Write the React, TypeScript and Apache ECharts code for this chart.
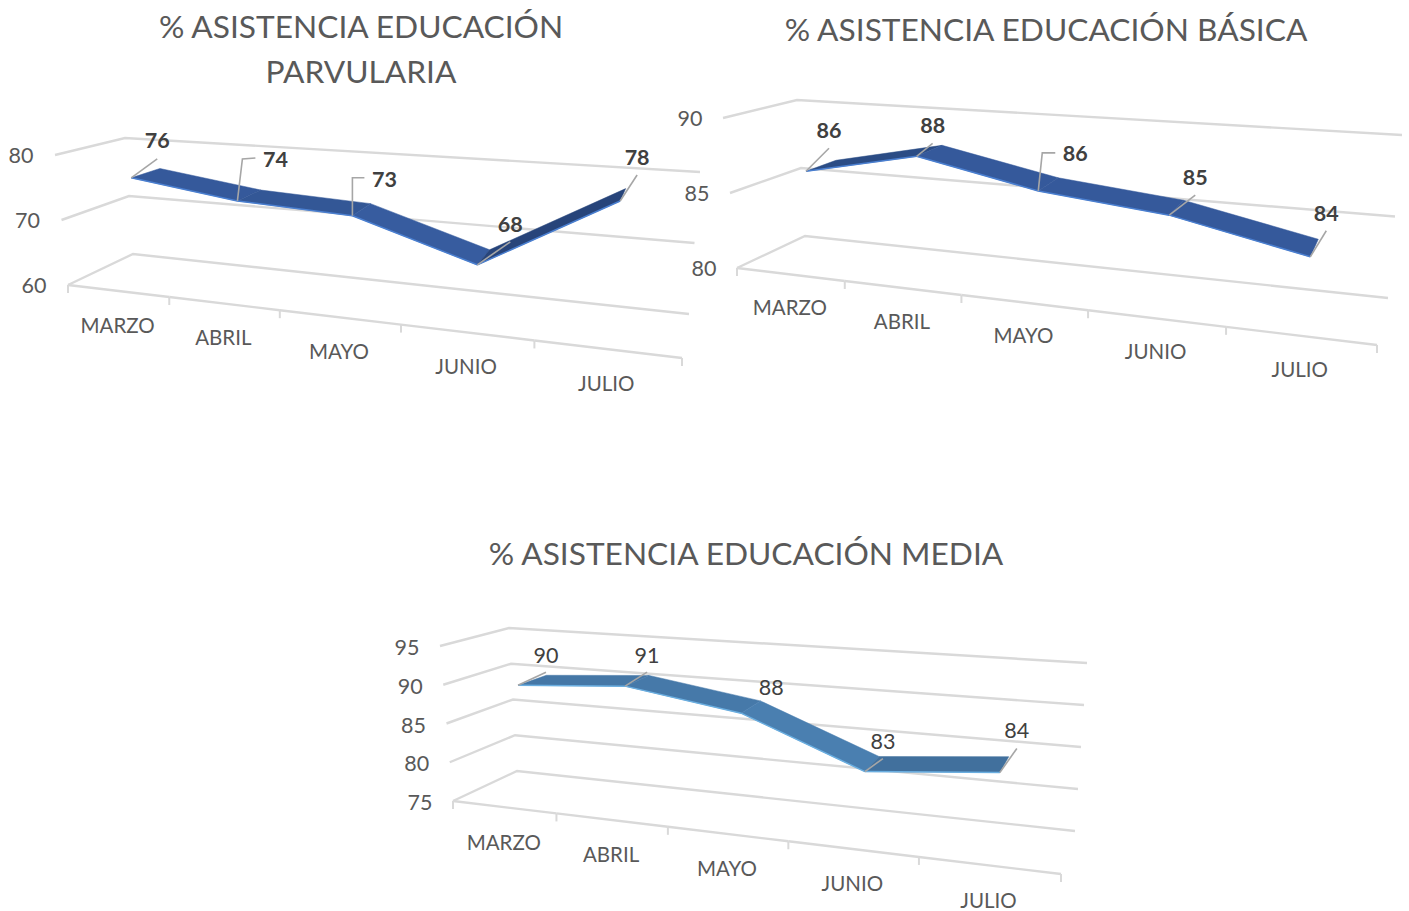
import React, { useEffect, useRef } from "react";
import * as echarts from "echarts";

const categories = ["MARZO", "ABRIL", "MAYO", "JUNIO", "JULIO"];

const parvulariaTitle = "% ASISTENCIA EDUCACIÓN\nPARVULARIA";
const parvulariaValues = [76, 73.7, 72.9, 67.5, 77.8];
const parvulariaTicks = [60, 70, 80];

const basicaTitle = "% ASISTENCIA EDUCACIÓN BÁSICA";
const basicaValues = [86.2, 87.8, 86.2, 85.4, 83.7];
const basicaTicks = [80, 85, 90];

const mediaTitle = "% ASISTENCIA EDUCACIÓN MEDIA";
const mediaValues = [89.5, 90.5, 88.3, 82.6, 84];
const mediaTicks = [75, 80, 85, 90, 95];

type P = [number, number];
type Box = { fbl: P; fbr: P; bbl: P; bbr: P; ftl: P; ftr: P; btl: P; btr: P };
type Note = { label: P; leader: P[] | null };

const FONT = "Lato, Carlito, sans-serif";
const GRID_COLOR = "#d9d9d9";
const TEXT_COLOR = "#595959";
const DEPTH_FRONT = 0.35;
const DEPTH_BACK = 0.8;

const charts: {
  title: string; titleX: number; titleY: number; warp: number;
  values: number[]; ticks: number[]; box: Box; grid: number[]; labelDy: number;
  segColors: string[]; edge: string; bold: boolean; tickDx: number; tickDy: number; notes: Note[];
}[] = [
  {
    title: parvulariaTitle, titleX: 356, titleY: -2, warp: -0.21, labelDy: 34,
    values: parvulariaValues, ticks: parvulariaTicks,
    box: { fbl: [68, 285], fbr: [682, 358], bbl: [133, 254], bbr: [689, 314], ftl: [55, 155], ftr: [696, 199], btl: [125, 138], btr: [700, 172] },
    grid: [60, 130, 620, 160],
    segColors: ["#35599b", "#335796", "#375c9f", "#27447a"], edge: "#4a7fd0", bold: true, tickDx: -34, tickDy: 0,
    notes: [
      { label: [26, -38], leader: [[26, -19]] },
      { label: [38, -42], leader: [[5, -42], [18, -43]] },
      { label: [32, -37], leader: [[0, -38], [12, -38]] },
      { label: [33, -41], leader: [[33, -23]] },
      { label: [17, -44], leader: [[17, -26]] },
    ],
  },
  {
    title: basicaTitle, titleX: 1041, titleY: 1, warp: -0.19, labelDy: 33,
    values: basicaValues, ticks: basicaTicks,
    box: { fbl: [737, 268], fbr: [1377, 345], bbl: [805, 236], bbr: [1388, 298], ftl: [723, 118], ftr: [1392, 165], btl: [797, 100], btr: [1402, 135] },
    grid: [730, 100, 650, 170],
    segColors: ["#2b4c85", "#35599b", "#35599b", "#35599b"], edge: "#4a7fd0", bold: true, tickDx: -33, tickDy: 0,
    notes: [
      { label: [23, -41], leader: [[23, -23]] },
      { label: [16, -31], leader: [[16, -13]] },
      { label: [37, -38], leader: [[4, -38], [17, -38]] },
      { label: [26, -38], leader: [[26, -20]] },
      { label: [16, -44], leader: [[16, -26]] },
    ],
  },
  {
    title: mediaTitle, titleX: 741, titleY: 525, warp: -0.18, labelDy: 34.5,
    values: mediaValues, ticks: mediaTicks,
    box: { fbl: [453, 801], fbr: [1061, 874], bbl: [517, 771], bbr: [1075, 831], ftl: [440, 646], ftr: [1074, 692], btl: [509, 628], btr: [1087, 663] },
    grid: [450, 640, 610, 160],
    segColors: ["#4577a6", "#4679a9", "#4a7fb0", "#41709d"], edge: "#6aaee0", bold: false, tickDx: -33, tickDy: 1,
    notes: [
      { label: [28, -30], leader: [[28, -13]] },
      { label: [22, -31], leader: [[22, -14]] },
      { label: [30, -26], leader: null },
      { label: [18, -31], leader: [[18, -13]] },
      { label: [17, -42], leader: [[17, -24]] },
    ],
  },
];

const mix = (a: P, b: P, t: number): P => [a[0] + (b[0] - a[0]) * t, a[1] + (b[1] - a[1]) * t];

// Excel's 3-D view: maps a position on the plain grid (u across, v up, d into the picture) onto the tilted box.
const project = (b: Box, warp: number, u: number, v: number, d: number): P => {
  const t = (u * (1 + warp)) / (1 + warp * u);
  const front = mix(mix(b.fbl, b.fbr, t), mix(b.ftl, b.ftr, t), v);
  const back = mix(mix(b.bbl, b.bbr, t), mix(b.btl, b.btr, t), v);
  return mix(front, back, d);
};

const text = (x: number, y: number, s: string, size: number, fill: string, weight = "normal") => ({
  type: "text", x, y, silent: true,
  style: { text: s, fill, font: `${weight} ${size}px ${FONT}`, align: "center", verticalAlign: "middle" },
});
const line = (points: P[], stroke: string, lineWidth: number) => ({
  type: "polyline", silent: true, shape: { points }, style: { stroke, lineWidth, fill: "none" },
});

const seriesFor = (c: (typeof charts)[number], index: number) => {
  const toUV = (params: any, p: number[]): P => {
    const g = params.coordSys;
    return [(p[0] - g.x) / g.width, 1 - (p[1] - g.y) / g.height];
  };
  const axes = { type: "custom", xAxisIndex: index, yAxisIndex: index, encode: { x: 0, y: 1 }, silent: true };
  const proj = (u: number, v: number, d: number) => project(c.box, c.warp, u, v, d);
  const point = (params: any, api: any, i: number, d: number): P => {
    const [u, v] = toUV(params, api.coord([i, c.values[i]]));
    return proj(u, v, d);
  };
  return [
    {
      ...axes, z: 1, data: c.ticks.map((t) => [0, t]),
      renderItem: (params: any, api: any) => {
        const value = api.value(1);
        const v = toUV(params, api.coord([0, value]))[1];
        const fl = proj(0, v, 0);
        const bl = proj(0, v, 1);
        const br = proj(1, v, 1);
        return {
          type: "group",
          children: [line([fl, bl, br], GRID_COLOR, 2.4), text(fl[0] + c.tickDx, fl[1] + c.tickDy, String(value), 21.5, TEXT_COLOR)],
        };
      },
    },
    {
      ...axes, z: 1, data: c.values.map((_, i) => [i, c.ticks[0]]),
      renderItem: (params: any, api: any) => {
        const i = api.value(0);
        const u = toUV(params, api.coord([i, c.ticks[0]]))[0];
        const half = api.size([1, 0])[0] / params.coordSys.width / 2;
        const a = proj(u - half, 0, 0);
        const b = proj(u + half, 0, 0);
        const m = proj(u, 0, 0);
        const children: any[] = [line([a, b], GRID_COLOR, 2.4), line([[a[0], a[1]], [a[0], a[1] + 8]], GRID_COLOR, 2), text(m[0], m[1] + c.labelDy, categories[i], 20.5, TEXT_COLOR)];
        if (i === categories.length - 1) children.push(line([[b[0], b[1]], [b[0], b[1] + 8]], GRID_COLOR, 2));
        return { type: "group", children };
      },
    },
    {
      ...axes, z: 3, data: c.values.map((v, i) => [i, v]),
      renderItem: (params: any, api: any) => {
        const i = params.dataIndex;
        if (i >= c.values.length - 1) return { type: "group", children: [] };
        const f0 = point(params, api, i, DEPTH_FRONT);
        const b0 = point(params, api, i, DEPTH_BACK);
        const f1 = point(params, api, i + 1, DEPTH_FRONT);
        const b1 = point(params, api, i + 1, DEPTH_BACK);
        return {
          type: "group",
          children: [
            { type: "polygon", silent: true, shape: { points: [f0, b0, b1, f1] }, style: { fill: c.segColors[i], stroke: c.segColors[i], lineWidth: 0.5 } },
            line([f0, f1], c.edge, 1.5),
          ],
        };
      },
    },
    {
      ...axes, z: 4, data: c.values.map((v, i) => [i, v]),
      renderItem: (params: any, api: any) => {
        const i = params.dataIndex;
        const p = point(params, api, i, DEPTH_FRONT);
        const note = c.notes[i];
        const children: any[] = [];
        if (note.leader) children.push(line([p, ...note.leader.map((o): P => [p[0] + o[0], p[1] + o[1]])], "#a6a6a6", 1.6));
        children.push(text(p[0] + note.label[0], p[1] + note.label[1], String(Math.round(c.values[i])), 21.5, "#404040", c.bold ? "bold" : "normal"));
        return { type: "group", children };
      },
    },
  ];
};

export default function App() {
  const ref = useRef<HTMLDivElement>(null);
  useEffect(() => {
    document.body.style.margin = "0";
    const chart = echarts.init(ref.current!, null, { renderer: "svg" });
    chart.setOption({
      animation: false,
      backgroundColor: "#ffffff",
      title: charts.map((c) => ({
        text: c.title, left: c.titleX, top: c.titleY, textAlign: "center",
        textStyle: { fontFamily: FONT, fontSize: 31.7, fontWeight: "normal", color: TEXT_COLOR, lineHeight: 45.5 },
      })),
      grid: charts.map((c) => ({ left: c.grid[0], top: c.grid[1], width: c.grid[2], height: c.grid[3] })),
      xAxis: charts.map((_, i) => ({ type: "category", gridIndex: i, data: categories, show: false })),
      yAxis: charts.map((c, i) => ({
        type: "value", gridIndex: i, show: false,
        min: c.ticks[0], max: c.ticks[c.ticks.length - 1], interval: c.ticks[1] - c.ticks[0],
      })),
      series: charts.flatMap((c, i) => seriesFor(c, i)),
    });
    return () => chart.dispose();
  }, []);
  return <div ref={ref} style={{ width: 1409, height: 911 }} />;
}
